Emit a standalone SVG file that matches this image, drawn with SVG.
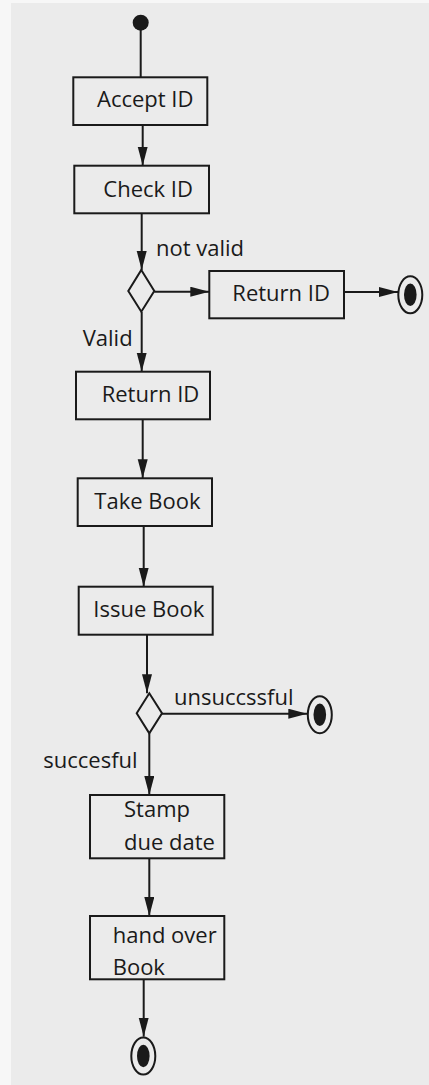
<svg xmlns="http://www.w3.org/2000/svg" width="429" height="1085" viewBox="0 0 429 1085">
<style>
.box{fill:none;stroke:#1a1a1a;stroke-width:2}
.t{font-family:"Open Sans","DejaVu Sans",sans-serif;font-size:22px;fill:#1a1a1a}
.c{stroke:#1a1a1a;stroke-width:2;fill:none}
.ca{stroke:#1a1a1a;stroke-width:2;fill:none;marker-end:url(#arr)}
.fo{fill:none;stroke:#1a1a1a;stroke-width:2}
.fi{fill:#1a1a1a}
</style>
<defs>
<marker id="arr" markerUnits="userSpaceOnUse" markerWidth="20" markerHeight="11" refX="19" refY="5" orient="auto">
<path d="M0,0 L19,5 L0,10 z" fill="#1a1a1a"/>
</marker>
</defs>
<rect x="0" y="0" width="429" height="1085" fill="#f7f7f7"/>
<rect x="11" y="3" width="418" height="1082" fill="#ebebeb"/>
<g id="connectors">
<line class="c" x1="140.7" y1="28" x2="140.7" y2="77.3"/>
<line class="ca" x1="142.7" y1="125" x2="142.7" y2="165.7"/>
<line class="ca" x1="141.7" y1="213.3" x2="141.7" y2="270"/>
<line class="ca" x1="154.3" y1="291.7" x2="209.3" y2="291.7"/>
<line class="ca" x1="344" y1="292" x2="398" y2="292"/>
<line class="ca" x1="141.7" y1="312" x2="141.7" y2="371.7"/>
<line class="ca" x1="142.7" y1="419.3" x2="142.7" y2="478.3"/>
<line class="ca" x1="143.7" y1="526" x2="143.7" y2="586.7"/>
<line class="ca" x1="147" y1="634.7" x2="147" y2="693.3"/>
<line class="ca" x1="162" y1="713.7" x2="307.3" y2="713.7"/>
<line class="ca" x1="149.3" y1="733.3" x2="149.3" y2="795"/>
<line class="ca" x1="149.3" y1="858.3" x2="149.3" y2="916"/>
<line class="ca" x1="143.7" y1="979.3" x2="143.7" y2="1036.7"/>
<text class="t" x="156" y="256">not valid</text>
<text class="t" x="82.7" y="346">Valid</text>
<text class="t" x="174" y="705">unsuccssful</text>
<text class="t" x="43.3" y="768.3">succesful</text>
</g>
<g id="start"><circle cx="140.7" cy="22.7" r="8" fill="#1a1a1a"/></g>
<g id="accept-id"><rect class="box" x="73.3" y="77.3" width="134" height="47.7"/><text class="t" x="97" y="107.3">Accept ID</text></g>
<g id="check-id"><rect class="box" x="74.3" y="165.7" width="134.7" height="47.6"/><text class="t" x="103.3" y="196.7">Check ID</text></g>
<g id="decision-1"><polygon class="box" points="141.3,270 154.3,291 141.3,311.7 128.3,291"/></g>
<g id="return-id-right"><rect class="box" x="209.3" y="271" width="134.7" height="47.3"/><text class="t" x="232.3" y="301">Return ID</text></g>
<g id="final-1"><ellipse class="fo" cx="410.3" cy="294.8" rx="12" ry="18.5"/><ellipse class="fi" cx="410.3" cy="294.8" rx="6.3" ry="11.3"/></g>
<g id="return-id"><rect class="box" x="76" y="371.7" width="134" height="47.6"/><text class="t" x="101.7" y="401.7">Return ID</text></g>
<g id="take-book"><rect class="box" x="77.7" y="478.3" width="134.3" height="47.7"/><text class="t" x="94.3" y="509.3">Take Book</text></g>
<g id="issue-book"><rect class="box" x="78.7" y="586.7" width="134" height="48"/><text class="t" x="93.3" y="616.7">Issue Book</text></g>
<g id="decision-2"><polygon class="box" points="149.3,693.3 162,713.3 149.3,733.3 136.7,713.3"/></g>
<g id="final-2"><ellipse class="fo" cx="319.8" cy="714.7" rx="12" ry="18.5"/><ellipse class="fi" cx="319.8" cy="714.7" rx="6.3" ry="11.3"/></g>
<g id="stamp"><rect class="box" x="90" y="795" width="134.3" height="63.3"/><text class="t" x="124" y="816.7">Stamp</text><text class="t" x="124" y="850">due date</text></g>
<g id="hand-over"><rect class="box" x="90" y="916" width="134.3" height="63.3"/><text class="t" x="112.7" y="942.7">hand over</text><text class="t" x="112.7" y="975">Book</text></g>
<g id="final-3"><ellipse class="fo" cx="143.3" cy="1056" rx="12" ry="18.5"/><ellipse class="fi" cx="143.3" cy="1056" rx="6.3" ry="11.3"/></g>
</svg>
